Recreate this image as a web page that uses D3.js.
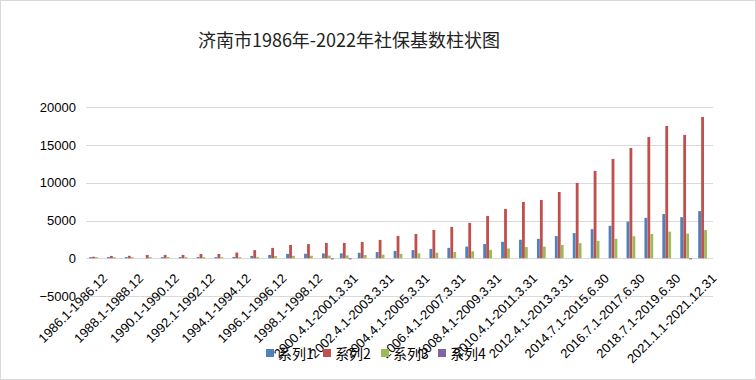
<!DOCTYPE html>
<html><head><meta charset="utf-8">
<script src="https://cdn.jsdelivr.net/npm/d3@7"></script>
<style>
html,body{margin:0;padding:0;background:#fff;}
svg{display:block;}
</style></head>
<body>
<script>
const title = "济南市1986年-2022年社保基数柱状图";
const categories = [
"1986.1-1986.12","1987.1-1987.12","1988.1-1988.12","1989.1-1989.12","1990.1-1990.12",
"1991.1-1991.12","1992.1-1992.12","1993.1-1993.12","1994.1-1994.12","1995.1-1995.12",
"1996.1-1996.12","1997.1-1997.12","1998.1-1998.12","1999.1-2000.3.31","2000.4.1-2001.3.31",
"2001.4.1-2002.3.31","2002.4.1-2003.3.31","2003.4.1-2004.3.31","2004.4.1-2005.3.31","2005.4.1-2006.3.31",
"2006.4.1-2007.3.31","2007.4.1-2008.3.31","2008.4.1-2009.3.31","2009.4.1-2010.3.31","2010.4.1-2011.3.31",
"2011.4.1-2012.3.31","2012.4.1-2013.3.31","2013.4.1-2014.6.30","2014.7.1-2015.6.30","2015.7.1-2016.6.30",
"2016.7.1-2017.6.30","2017.7.1-2018.6.30","2018.7.1-2019.6.30","2019.7.1-2020.12.31","2021.1.1-2021.12.31"];
const seriesNames = ["系列1","系列2","系列3","系列4"];
const series1 = [150,150,150,0,150,150,150,150,180,310,440,580,600,640,650,720,820,970,1080,1240,1380,1550,1880,2180,2450,2570,2930,3330,3860,4300,4860,5350,5860,5450,6240];
const series2 = [200,310,330,440,440,440,570,570,760,1080,1370,1770,1880,2030,2030,2160,2430,2960,3220,3750,4150,4680,5610,6530,7460,7730,8780,9980,11570,13160,14610,16070,17530,16340,18720];
const series3 = [150,150,150,150,150,150,150,150,150,180,300,330,340,360,380,430,480,580,640,740,830,930,1120,1300,1480,1540,1760,2000,2310,2580,2920,3210,3520,3270,3740];
const series4 = [0,0,0,0,0,0,0,0,0,0,0,0,0,-150,-150,0,0,0,0,0,0,0,0,0,0,0,0,0,0,0,0,0,0,-150,0];
const yTicks = [-5000,0,5000,10000,15000,20000];
const colors = ["#4F81BD","#C0504D","#9BBB59","#8064A2"];

const W = 756, H = 380;
const svg = d3.select("body").append("svg").attr("width", W).attr("height", H);
svg.append("rect").attr("x",0.5).attr("y",0.5).attr("width",W-1).attr("height",H-1)
  .attr("fill","#fff").attr("stroke","#d9d9d9");

svg.append("text").attr("x",349).attr("y",47).attr("text-anchor","middle")
  .attr("font-family","'Noto Sans CJK SC', sans-serif").attr("font-size",18).attr("fill","#222")
  .text(title);

const left = 86, right = 713;
const y = d3.scaleLinear().domain([-5000,20000]).range([296,107.3]);
const x0 = d3.scaleBand().domain(d3.range(categories.length)).range([left,right]).paddingInner(0.33).paddingOuter(0.165);
const x1 = d3.scaleBand().domain(d3.range(4)).range([0,x0.bandwidth()]).padding(0.05);

// gridlines
svg.append("g").selectAll("line").data(yTicks).join("line")
  .attr("x1",left).attr("x2",right)
  .attr("y1",d=>Math.round(y(d))+0.5).attr("y2",d=>Math.round(y(d))+0.5)
  .attr("stroke","#d9d9d9").attr("stroke-width",1);

// y labels
const yAxis = d3.axisLeft(y).tickValues(yTicks).tickSize(0).tickPadding(0).tickFormat(d3.format("d"));
const ga = svg.append("g").attr("transform",`translate(76,0)`).call(yAxis);
ga.select(".domain").remove();
ga.selectAll("text").attr("font-family","'Liberation Sans', Arial, sans-serif").attr("font-size",13).attr("fill","#000");

// bars
const all = [series1,series2,series3,series4];
const groups = svg.append("g").selectAll("g").data(categories).join("g")
  .attr("transform",(d,i)=>`translate(${x0(i)},0)`);
groups.selectAll("rect").data((d,i)=>all.map((s,k)=>({k, v:s[i]}))).join("rect")
  .attr("x",d=>x1(d.k)).attr("width",x1.bandwidth())
  .attr("y",d=>Math.min(y(d.v),y(0))).attr("height",d=>Math.abs(y(d.v)-y(0)))
  .attr("fill",d=>colors[d.k]);

// x labels (every other)
const gx = svg.append("g");
categories.forEach((c,i)=>{
  if (i%2!==0) return;
  const cx = x0(i)+x0.bandwidth()/2;
  gx.append("text").attr("transform",`translate(${cx+10},${276}) rotate(-45)`)
    .attr("text-anchor","end").attr("dy","0.35em")
    .attr("font-family","'Liberation Sans', Arial, sans-serif").attr("font-size",13).attr("fill","#000")
    .text(c);
});

// legend
const lg = svg.append("g");
const lx = [266,323,381,438];
seriesNames.forEach((n,k)=>{
  lg.append("rect").attr("x",lx[k]).attr("y",349).attr("width",8).attr("height",8).attr("fill",colors[k]);
  lg.append("text").attr("x",lx[k]+12).attr("y",358.5)
    .attr("font-family","'Noto Sans CJK SC', sans-serif").attr("font-size",14).attr("fill","#000").text(n);
});
</script>
</body></html>
